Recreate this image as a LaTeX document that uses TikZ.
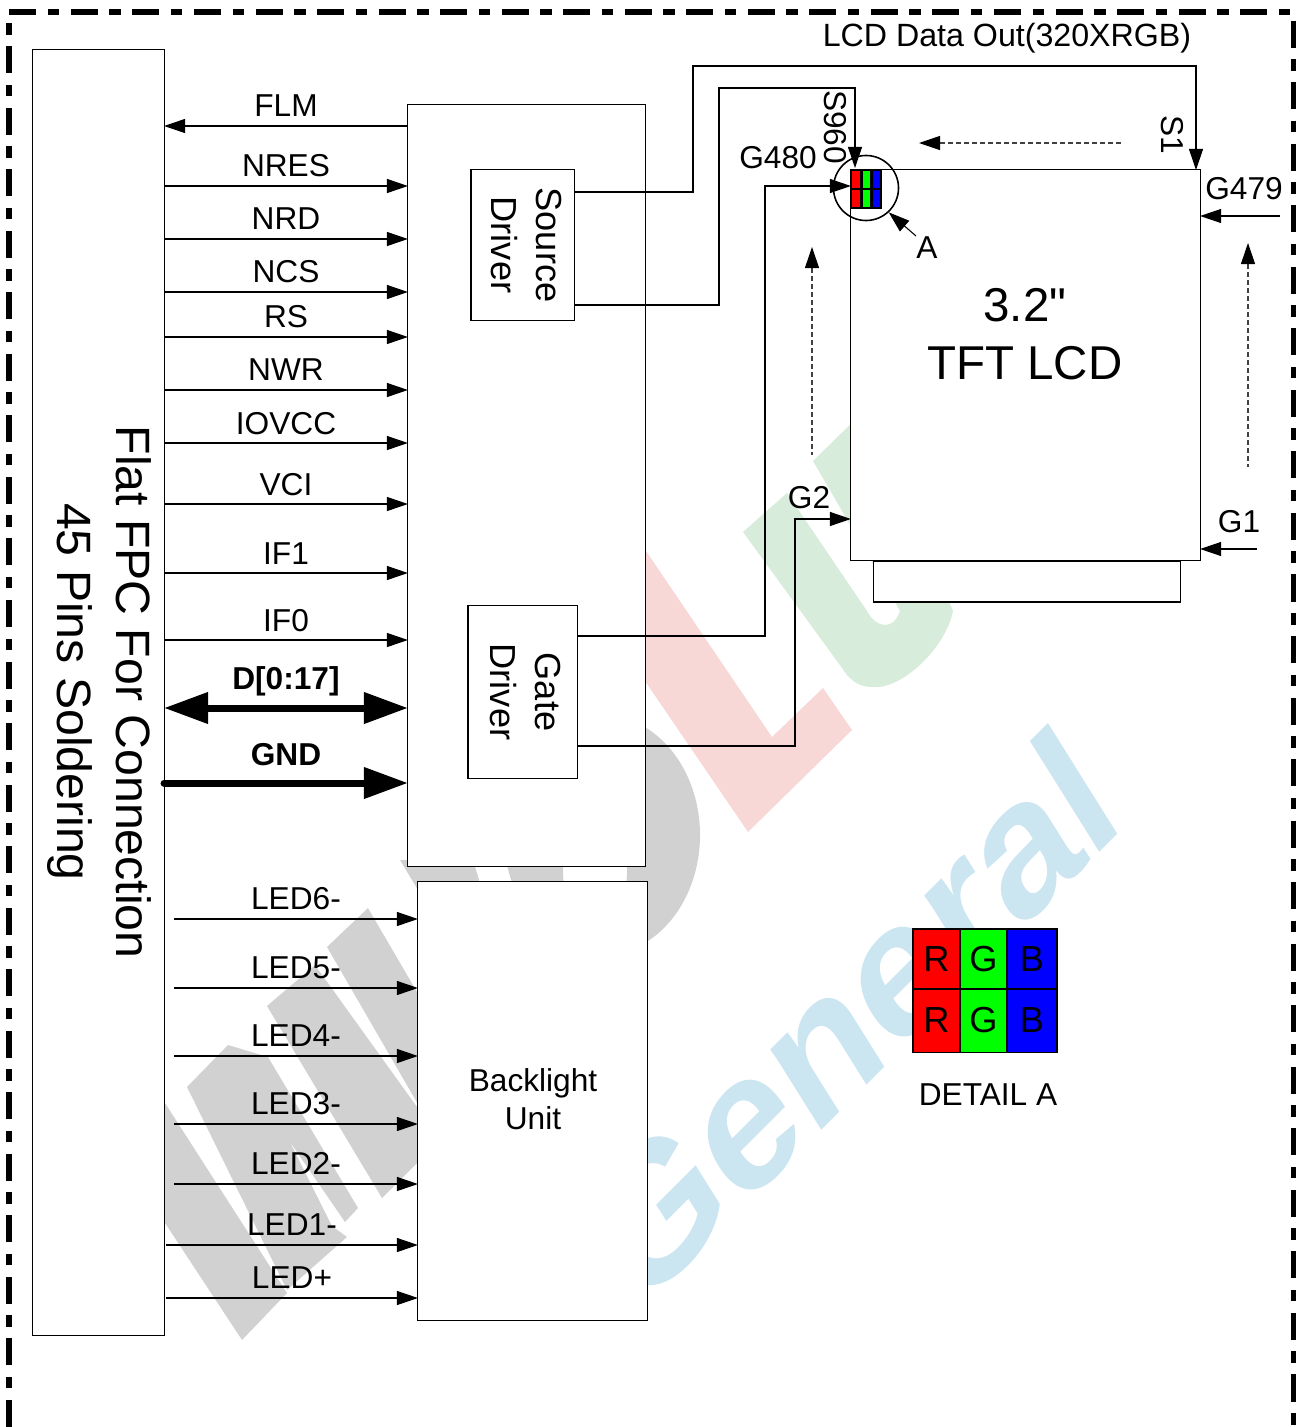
\documentclass[tikz,border=0pt]{standalone}
\usepackage{fontspec}
\setmainfont{Liberation Sans}
\newfontfamily\lcdfont{Liberation Sans}
\usetikzlibrary{arrows.meta}

\definecolor{wmblue}{HTML}{CBE5F1}
\definecolor{wmred}{HTML}{F8D7D7}
\definecolor{wmgreen}{HTML}{D8ECDB}

\tikzset{
  box/.style={draw, fill=white, line width=.3pt, inner sep=0, outer sep=0},
  sig/.style={-{Triangle[length=.21cm,width=.14cm]}, line width=.3pt},
  bus/.style={line width=.07cm},
  hint/.style={line width=.3pt, dash pattern=on .05cm off .03cm, draw=black!75, {Triangle[length=.21cm,width=.14cm,color=black]}-},
  lab/.style={midway, anchor=base, yshift=.09cm, inner sep=0},
  wmgrey/.style={fill=black!18},
}

\begin{document}
\begin{tikzpicture}[x=.01cm, y=-.01cm, font=\fontsize{9}{11}\selectfont]
  \useasboundingbox (0,0) rectangle (1299,1427);

  % Watermark behind everything
  \fill[wmgrey] (165,1103) -- (287,1293) -- (242,1340) -- (165,1223) -- cycle;
  \fill[wmgrey] (187,1087) -- (228,1045) -- (268,1057) -- (358,1208) -- (345,1222)
        -- (290,1142) -- (332,1226) -- (347,1237) -- (287,1290) -- cycle;
  \fill[wmgrey] (267,1006) -- (315,965) -- (430,1125) -- (327,947) -- (368,908)
        -- (480,1100) -- (382,1198) -- cycle;
  \fill[wmgrey] (400,860) -- (473,860) -- (482,890) -- (418,890) -- cycle;
  \fill[wmgrey, even odd rule] (602,835) ellipse (98 and 120) (595,870) ellipse (32 and 60);
  \fill[wmred] (600,483) -- (772,737) -- (823,688) -- (852,730) -- (748,832) -- (600,615) -- cycle;
  \fill[wmgreen] (743,532) -- (787,493) -- (867,611)
        .. controls (875,627) and (893,632) .. (900,611) -- (813,461) -- (870,405) -- (953,611)
        .. controls (945,650) and (900,690) .. (873,687)
        .. controls (862,687) and (852,684) .. (842,668) -- cycle;
  \node[rotate=45, xslant=.23, xscale=1.06, text=wmblue, inner sep=0, anchor=base west,
        font=\fontsize{50}{50}\selectfont\bfseries] at (636,1316) {General};

  % Outer frame
  \draw[line width=.05cm, dash pattern=on .27cm off .115cm on .115cm off .115cm]
        (9,1427) -- (9,12) -- (1293,12) -- (1293,1427);

  % Main blocks
  \node[box, minimum width=1.31cm, minimum height=12.85cm] (fpc) at (98.5,692.5) {};
  \node[rotate=-90, align=center, font=\fontsize{13.7}{16.7}\selectfont] at (99.5,692)
        {Flat FPC For Connection\\45 Pins Soldering};
  \node[box, minimum width=2.37cm, minimum height=7.61cm] (driver) at (526.5,485.5) {};
  \node[box, minimum width=1.03cm, minimum height=1.50cm] (source) at (522.5,245) {};
  \node[rotate=-90, align=center, font=\fontsize{10.3}{12.8}\selectfont] at (526,245) {Source\\Driver};
  \node[box, minimum width=1.09cm, minimum height=1.72cm] (gate) at (522.5,692) {};
  \node[rotate=-90, align=center, font=\fontsize{10.3}{12.8}\selectfont] at (525,692) {Gate\\Driver};
  \node[box, minimum width=2.29cm, minimum height=4.38cm] (light) at (532.5,1101) {};
  \node[align=center, font=\fontsize{9}{10.8}\selectfont] at (533,1099) {Backlight\\Unit};
  \node[box, minimum width=3.06cm, minimum height=.41cm] (flex) at (1027,581.5) {};
  \node[box, minimum width=3.49cm, minimum height=3.90cm] (lcd) at (1025.5,365) {};
  \node[align=center, font=\fontsize{13.5}{16.5}\lcdfont] at (1025,334) {3.2"\\TFT LCD};

  % Interface signals
  \draw[sig] (driver.west |- 0,126) -- (fpc.east |- 0,126) node[lab] {FLM};
  \foreach \name/\y in {NRES/186, NRD/239, NCS/292, RS/337, NWR/390, IOVCC/443, VCI/504, IF1/573, IF0/640} {
    \draw[sig] (fpc.east |- 0,\y) -- (driver.west |- 0,\y) node[lab] {\name};
  }
  \draw[bus, {Triangle[length=.44cm,width=.3cm]}-{Triangle[length=.44cm,width=.3cm]}]
        (fpc.east |- 0,708) -- (driver.west |- 0,708) node[lab, yshift=.09cm, font=\fontsize{9}{11}\selectfont\bfseries] {D[0:17]};
  \draw[bus, line cap=round, -{Triangle[length=.44cm,width=.3cm]}]
        (fpc.east |- 0,783) -- (driver.west |- 0,783) node[lab, yshift=.09cm, font=\fontsize{9}{11}\selectfont\bfseries] {GND};

  % LED lines
  \foreach \name/\x/\y in {LED6-/174/919, LED5-/174/988, LED4-/174/1056, LED3-/174/1124,
                           LED2-/174/1184, LED1-/166/1245, LED+/166/1298} {
    \coordinate (tail) at (\x,\y);
    \draw[sig] (tail) -- (light.west |- tail) node[lab, yshift=.01cm] {\name};
  }

  % Driver outputs
  \coordinate (s1in) at (1196,170);
  \coordinate (s960in) at (855,168);
  \draw[sig] (source.east |- 0,192) -- (693,192) -- (693,66) -- (1196,66) -- (s1in);
  \draw[sig] (source.east |- 0,305) -- (719,305) -- (719,88) -- (855,88) -- (s960in);
  \draw[sig] (gate.east |- 0,636) -- (765,636) -- (765,186) -- (lcd.west |- 0,186);
  \draw[sig] (gate.east |- 0,746) -- (795,746) -- (795,519) -- (lcd.west |- 0,519);

  % Scan direction hints
  \coordinate (hleft) at (919,143);
  \coordinate (hright) at (1121,143);
  \coordinate (vtop) at (812,247);
  \coordinate (vbot) at (812,455);
  \coordinate (wtop) at (1248,243);
  \coordinate (wbot) at (1248,467);
  \draw[hint] (hleft) -- (hright);
  \draw[hint] (vtop) -- (vbot);
  \draw[hint] (wtop) -- (wbot);

  % Gate inputs on the right
  \coordinate (g479) at (1280,216);
  \coordinate (g1) at (1257,549);
  \draw[sig] (g479) -- (lcd.east |- g479);
  \draw[sig] (g1) -- (lcd.east |- g1);

  % Corner pixels and detail circle
  \foreach \c/\xa/\xb in {red/851/861, green/862/871, blue/872/881} {
    \draw[fill=\c, line width=.3pt] (\xa,170) rectangle (\xb,189);
    \draw[fill=\c, line width=.3pt] (\xa,189) rectangle (\xb,208);
  }
  \node[draw, circle, minimum size=.65cm, inner sep=0, line width=.45pt] (ring) at (866,188) {};
  \coordinate (atail) at (916,236);
  \draw[sig] (atail) -- (ring.-47);

  % Pin labels
  \node[inner sep=0] (ga) at (778,158) {G480};
  \node[inner sep=0, rotate=-90] (sb) at (835,127) {S960};
  \node[inner sep=0, rotate=-90] (sa) at (1172,135) {S1};
  \node[inner sep=0] (gb) at (1244,189) {G479};
  \node[inner sep=0] (gc) at (1239,522) {G1};
  \node[inner sep=0] (gd) at (809,498) {G2};
  \node[inner sep=0] (la) at (927,248) {A};
  \node[inner sep=0, font=\fontsize{9.15}{11}\selectfont] (dataout) at (1007,38) {LCD Data Out(320XRGB)};

  % Detail A
  \foreach \c/\t/\xc/\w in {red/R/936.5/.47cm, green/G/983.5/.47cm, blue/B/1032/.50cm} {
    \node[box, fill=\c, minimum width=\w, minimum height=.60cm, font=\fontsize{10.3}{12}\selectfont] (top\t) at (\xc,959) {\t};
    \node[box, fill=\c, minimum width=\w, minimum height=.63cm, font=\fontsize{10.3}{12}\selectfont] (low\t) at (\xc,1020.5) {\t};
  }
  \node[inner sep=0] (detail) at (988,1095) {DETAIL A};
\end{tikzpicture}
\end{document}
